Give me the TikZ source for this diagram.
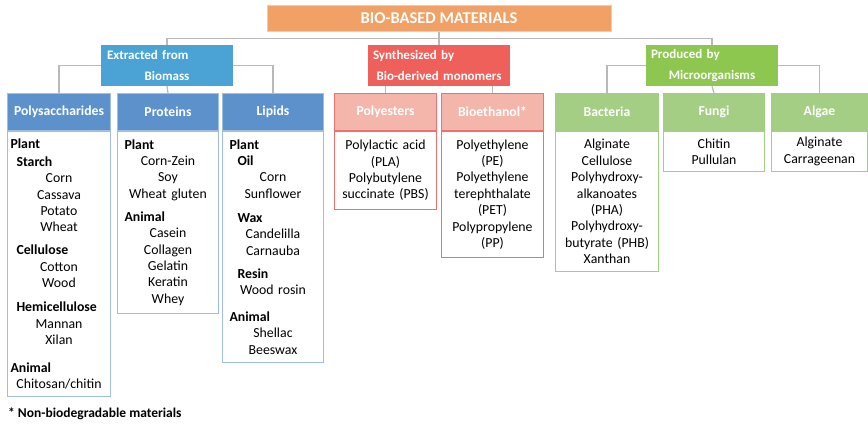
\documentclass[tikz,border=0pt]{standalone}
\usepackage{fontspec}
\setmainfont{Carlito}
\usetikzlibrary{positioning,backgrounds}

\definecolor{bioOrange}{RGB}{242,161,102}
\definecolor{extrBlue}{RGB}{75,163,213}
\definecolor{colBlue}{RGB}{93,145,204}
\definecolor{colBlueLine}{RGB}{160,190,228}
\definecolor{synRed}{RGB}{240,96,90}
\definecolor{colPink}{RGB}{244,181,170}
\definecolor{colPinkLine}{RGB}{240,112,112}
\definecolor{prodGreen}{RGB}{141,199,80}
\definecolor{colGreen}{RGB}{164,206,132}

% left-aligned bold sub-heading inside a centred body
\newcommand{\subhd}[2][0pt]{\makebox[\linewidth][l]{\hspace{#1}\textbf{#2}}}
\newcommand{\lfirst}[1]{\makebox[\linewidth][l]{#1}}

\begin{document}
\begin{tikzpicture}[x=1pt,y=-1pt]
	\tikzstyle{title} = [fill=bioOrange, draw=gray!35, minimum width=344pt, minimum height=26pt, text=white, font=\bfseries\fontsize{16.5}{18}\selectfont]
	\tikzstyle{group} = [minimum height=41pt, inner sep=0pt, align=center, text=white, font=\bfseries\fontsize{13}{21}\selectfont]
	\tikzstyle{head} = [anchor=north west, minimum height=37pt, inner sep=0pt, line width=1pt, text=white, font=\bfseries\fontsize{13.7}{16}\selectfont]
	\tikzstyle{body} = [draw, line width=1pt, inner xsep=3pt, inner ysep=0pt, align=center, font=\fontsize{13.8}{16.4}\selectfont]
	\tikzstyle{link} = [draw=gray!55, line width=1.2pt]

	\useasboundingbox (0,0) rectangle (868,426);

	% Top and second level
	\node[title] (bio) at (439,18) {BIO-BASED MATERIALS};
	\node[group, fill=extrBlue, minimum width=132pt, text width=120pt] (extr) at (167,65.5) {\lfirst{Extracted from}\\Biomass};
	\node[group, fill=synRed, minimum width=142pt, text width=132pt] (synth) at (439,65.5) {\lfirst{Synthesized by}\\Bio-derived monomers};
	\node[group, fill=prodGreen, minimum width=132pt, text width=122pt] (prod) at (712,65.5) {\lfirst{Produced by}\\Microorganisms};

	% Extracted from biomass
	\node[head, fill=colBlue, draw=colBlueLine, minimum width=103pt] (polyH) at (7,93) {Polysaccharides};
	\node[body, draw=colBlueLine, text width=97pt, minimum height=265pt, below=0pt of polyH] (polyB) {\subhd{Plant}\\[1.6pt]
		\subhd[6pt]{Starch}\\
		Corn\\Cassava\\Potato\\Wheat\\[6.6pt]
		\subhd[6pt]{Cellulose}\\
		Cotton\\Wood\\[7.6pt]
		\subhd[6pt]{Hemicellulose}\\
		Mannan\\Xilan\\[11.6pt]
		\subhd{Animal}\\
		Chitosan/chitin};

	\node[head, fill=colBlue, draw=colBlueLine, minimum width=101pt] (protH) at (117,93) {Proteins};
	\node[body, draw=colBlueLine, text width=95pt, minimum height=182pt, below=0pt of protH] (protB) {\subhd[4pt]{Plant}\\
		Corn-Zein\\Soy\\Wheat gluten\\[6.6pt]
		\subhd[4pt]{Animal}\\
		Casein\\Collagen\\Gelatin\\Keratin\\Whey};

	\node[head, fill=colBlue, draw=colBlueLine, minimum width=101pt] (lipH) at (222,93) {Lipids};
	\node[body, draw=colBlueLine, text width=95pt, minimum height=231pt, below=0pt of lipH] (lipB) {\subhd[4pt]{Plant}\\
		\subhd[12pt]{Oil}\\
		Corn\\Sunflower\\[7.6pt]
		\subhd[12pt]{Wax}\\
		Candelilla\\Carnauba\\[6.6pt]
		\subhd[12pt]{Resin}\\
		Wood rosin\\[10.6pt]
		\subhd[4pt]{Animal}\\
		Shellac\\Beeswax};

	% Synthesized by bio-derived monomers
	\node[head, fill=colPink, draw=colPinkLine, minimum width=102pt] (pestH) at (334,93) {Polyesters};
	\node[body, draw=colPinkLine, text width=96pt, minimum height=78pt, below=0pt of pestH] (pestB) {Polylactic acid\\(PLA)\\Polybutylene\\succinate (PBS)};

	\node[head, fill=colPink, draw=colPinkLine, minimum width=102pt] (ethH) at (441,93) {Bioethanol*};
	\node[body, draw=colPinkLine, text width=96pt, minimum height=126pt, below=0pt of ethH] (ethB) {Polyethylene\\(PE)\\Polyethylene\\terephthalate\\(PET)\\Polypropylene\\(PP)};

	% Produced by microorganisms
	\node[head, fill=colGreen, draw=colGreen, minimum width=103pt] (bactH) at (555,93) {Bacteria};
	\node[body, draw=colGreen, text width=97pt, minimum height=140pt, below=0pt of bactH] (bactB) {Alginate\\Cellulose\\Polyhydroxy-\\alkanoates\\(PHA)\\Polyhydroxy-\\butyrate (PHB)\\Xanthan};

	\node[head, fill=colGreen, draw=colGreen, minimum width=101pt] (fungH) at (663,93) {Fungi};
	\node[body, draw=colGreen, text width=95pt, minimum height=40pt, below=0pt of fungH] (fungB) {Chitin\\Pullulan};

	\node[head, fill=colGreen, draw=colGreen, minimum width=96pt] (algH) at (771,93) {Algae};
	\node[body, draw=colGreen, text width=90pt, minimum height=40pt, below=0pt of algH] (algB) {Alginate\\Carrageenan};

	\node[anchor=west, inner sep=0pt, font=\bfseries\fontsize{13.5}{15}\selectfont] (note) at (8,414) {* Non-biodegradable materials};

	% Connectors behind the boxes
	\begin{scope}[on background layer]
		\draw[link] (bio.south) -- ++(0,7) -| (extr.north);
		\draw[link] (bio.south) -- ++(0,7) -| (prod.north);
		\draw[link] (bio.south) -- (synth.north);
		\draw[link] (extr.center) -| (polyH.north);
		\draw[link] (extr.center) -| (lipH.north);
		\draw[link] (extr.south) -- (protH.north);
		\draw[link] (synth.center) -| (pestH.north);
		\draw[link] (synth.center) -| (ethH.north);
		\draw[link] (prod.center) -| (bactH.north);
		\draw[link] (prod.center) -| (algH.north);
		\draw[link] (prod.south) -- (fungH.north);
	\end{scope}
\end{tikzpicture}
\end{document}
